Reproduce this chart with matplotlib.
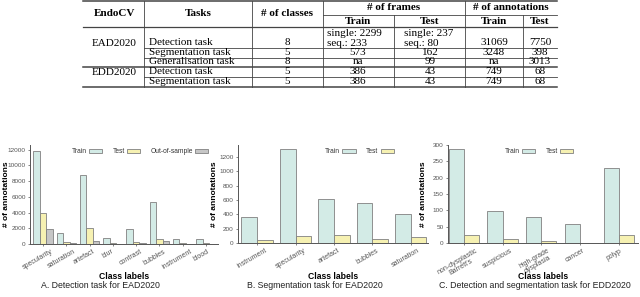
import numpy as np
import matplotlib
matplotlib.use("Agg")
import matplotlib.pyplot as plt
from matplotlib.transforms import ScaledTranslation

plt.rcParams['font.family'] = ['Liberation Sans', 'DejaVu Sans']

# ---- table contents ----
tab_head = ["EndoCV", "Tasks", "# of classes"]
tab_groups = ["# of frames", "# of annotations"]
tab_sub = ["Train", "Test", "Train", "Test"]
tab_datasets = ["EAD2020", "EDD2020"]
tab_tasks = ["Detection task", "Segmentation task", "Generalisation task",
             "Detection task", "Segmentation task"]
tab_classes = ["8", "5", "8", "5", "5"]
tab_frames_train = ["single: 2299\nseq.: 233", "573", "na", "386", "386"]
tab_frames_test = ["single: 237\nseq.: 80", "162", "99", "43", "43"]
tab_ann_train = ["31069", "3248", "na", "749", "749"]
tab_ann_test = ["7750", "398", "3013", "68", "68"]

# ---- bar chart data ----
a_classes = ["specularity", "saturation", "artefact", "blur", "contrast",
             "bubbles", "instrument", "blood"]
a_train = [11900, 1400, 8800, 760, 1900, 5340, 680, 590]
a_test = [3950, 250, 2030, 170, 250, 680, 130, 130]
a_oos = [1950, 80, 420, 40, 90, 420, 40, 30]

b_classes = ["instrument", "specularity", "artefact", "bubbles", "saturation"]
b_train = [360, 1315, 610, 558, 405]
b_test = [42, 98, 112, 56, 84]

c_classes = ["non-dysplastic\nBarrett's", "suspicious", "high-grade\ndysplasia",
             "cancer", "polyp"]
c_train = [287, 98, 79, 57, 229]
c_test = [24, 13, 5, 1, 25]

c_tr = "#d3ebe6"
c_te = "#f6f1b2"
c_oo = "#c6c6c6"
edge = "#808080"

W, H = 640, 297
fig = plt.figure(figsize=(6.4, 2.97), dpi=100)

# ---- table drawn on an overlay in pixel coordinates ----
tax = fig.add_axes([0, 0, 1, 1])
tax.set_xlim(0, W)
tax.set_ylim(H, 0)
tax.axis("off")

serif = ['Liberation Serif', 'DejaVu Serif']
fs = 8.0
lc = "#444444"
x0, x1 = 83, 557
# full rules
for y in [1, 66.5, 86.5]:
    tax.plot([x0, x1], [y, y], color=lc, lw=1.1)
tax.plot([x0, x1], [27, 27], color=lc, lw=0.9)
tax.plot([323, x1], [15, 15], color=lc, lw=0.6)
for y in [48, 57.5, 76.5]:
    tax.plot([144, x1], [y, y], color=lc, lw=0.6)
# vertical rules
for x in [144, 252, 323, 465]:
    tax.plot([x, x], [1, 86.5], color=lc, lw=0.6)
for x in [394, 523]:
    tax.plot([x, x], [15, 86.5], color=lc, lw=0.6)

hx = [114, 198, 287]
for x, t in zip(hx, tab_head):
    tax.text(x, 13.5, t, ha="center", va="center", family=serif, fontsize=fs, weight="bold")
for x, t in zip([394, 511], tab_groups):
    tax.text(x, 7, t, ha="center", va="center", family=serif, fontsize=fs, weight="bold")
for x, t in zip([358, 430, 494, 540], tab_sub):
    tax.text(x, 21, t, ha="center", va="center", family=serif, fontsize=fs, weight="bold")

tax.text(114, 43, tab_datasets[0], ha="center", va="center", family=serif, fontsize=fs)
tax.text(114, 72.5, tab_datasets[1], ha="center", va="center", family=serif, fontsize=fs)

row_y = [42.5, 52.8, 62.0, 71.5, 81.5]
for i, y in enumerate(row_y):
    tax.text(149, y, tab_tasks[i], ha="left", va="center", family=serif, fontsize=fs)
    tax.text(287, y, tab_classes[i], ha="center", va="center", family=serif, fontsize=fs)
    for x, xl, col in [(358, 327, tab_frames_train), (430, 404, tab_frames_test)]:
        val = col[i]
        if "\n" in val:
            l1, l2 = val.split("\n")
            tax.text(xl, 33.5, l1, ha="left", va="center", family=serif, fontsize=fs)
            tax.text(xl, 43.5, l2, ha="left", va="center", family=serif, fontsize=fs)
        else:
            tax.text(x, y, val, ha="center", va="center", family=serif, fontsize=fs)
    tax.text(494, y, tab_ann_train[i], ha="center", va="center", family=serif, fontsize=fs)
    tax.text(540, y, tab_ann_test[i], ha="center", va="center", family=serif, fontsize=fs)


def px_axes(l, r, top, bottom):
    return fig.add_axes([l / W, 1 - bottom / H, (r - l) / W, (bottom - top) / H])


def style(ax, lab_x, xlab_y):
    for s in ["top", "right"]:
        ax.spines[s].set_visible(False)
    for s in ["left", "bottom"]:
        ax.spines[s].set_color("#555555")
        ax.spines[s].set_linewidth(0.7)
    ax.tick_params(axis="both", labelsize=4.6, colors="#555555", length=1.5, width=0.5, pad=1.5)
    ax.tick_params(axis="x", labelsize=5.0)
    ax.set_ylabel("# of annotations", fontsize=6, weight="bold")
    ax.yaxis.set_label_coords(lab_x, 0.5)
    ax.set_xlabel("Class labels", fontsize=6.2, weight="bold")
    ax.xaxis.set_label_coords(0.5, xlab_y)
    shift = ScaledTranslation(-0.05, 0, fig.dpi_scale_trans)
    for lab in ax.get_xticklabels():
        lab.set_transform(lab.get_transform() + shift)


def legend(ax, xc, n):
    ax.legend(loc="center", bbox_to_anchor=(xc, 0.93), ncol=n, frameon=False,
              markerfirst=False, fontsize=4.8, handlelength=2.0, handleheight=0.6,
              columnspacing=1.6, handletextpad=0.3, labelcolor="#333333")


# ---- panel A ----
axA = px_axes(30, 218, 145, 244)
xa = np.arange(len(a_classes))
bw = 0.28
axA.bar(xa - bw, a_train, bw, color=c_tr, edgecolor=edge, lw=0.6, label="Train")
axA.bar(xa, a_test, bw, color=c_te, edgecolor=edge, lw=0.6, label="Test")
axA.bar(xa + bw, a_oos, bw, color=c_oo, edgecolor=edge, lw=0.6, label="Out-of-sample")
axA.set_xlim(-0.56, 7.52)
axA.set_ylim(0, 12600)
axA.set_yticks([0, 2000, 4000, 6000, 8000, 10000, 12000])
axA.set_xticks(xa)
axA.set_xticklabels(a_classes, rotation=30, ha="center")
style(axA, -0.109, -0.283)
legend(axA, 0.585, 3)

# ---- panel B ----
axB = px_axes(238, 428, 145, 243)
xb = np.arange(len(b_classes))
bw2 = 0.41
axB.bar(xb - bw2 / 2, b_train, bw2, color=c_tr, edgecolor=edge, lw=0.6, label="Train")
axB.bar(xb + bw2 / 2, b_test, bw2, color=c_te, edgecolor=edge, lw=0.6, label="Test")
axB.set_xlim(-0.5, 4.45)
axB.set_ylim(0, 1370)
axB.set_yticks([0, 200, 400, 600, 800, 1000, 1200])
axB.set_xticks(xb)
axB.set_xticklabels(b_classes, rotation=30, ha="center")
style(axB, -0.103, -0.296)
legend(axB, 0.64, 2)

# ---- panel C ----
axC = px_axes(448, 638, 145, 243)
xc = np.arange(len(c_classes))
bw3 = 0.39
axC.bar(xc - bw3 / 2, c_train, bw3, color=c_tr, edgecolor=edge, lw=0.6, label="Train")
axC.bar(xc + bw3 / 2, c_test, bw3, color=c_te, edgecolor=edge, lw=0.6, label="Test")
axC.set_xlim(-0.41, 4.5)
axC.set_ylim(0, 300)
axC.set_yticks([0, 50, 100, 150, 200, 250, 300])
axC.set_xticks(xc)
axC.set_xticklabels(c_classes, rotation=30, ha="center", linespacing=0.9)
style(axC, -0.108, -0.296)
legend(axC, 0.48, 2)

# captions
cy = 1 - 286 / H
fig.text(100 / W, cy, "A. Detection task for EAD2020", ha="center", va="center",
         fontsize=6.3, color="#222222")
fig.text(315 / W, cy, "B. Segmentation task for EAD2020", ha="center", va="center",
         fontsize=6.3, color="#222222")
fig.text(535 / W, cy, "C. Detection and segmentation task for EDD2020", ha="center",
         va="center", fontsize=6.3, color="#222222")

fig.savefig("out.png", dpi=100)
